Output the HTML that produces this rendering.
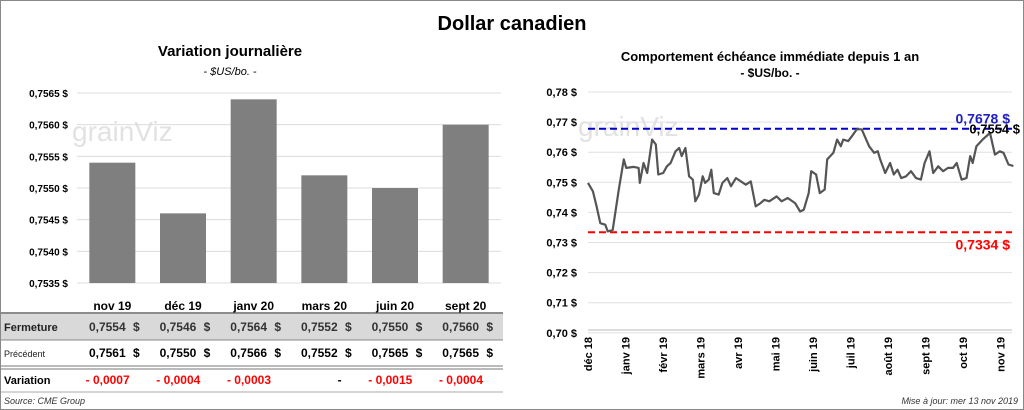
<!DOCTYPE html>
<html><head><meta charset="utf-8"><style>
body{margin:0;background:#fff;font-family:"Liberation Sans",sans-serif}
#wrap{position:relative;width:1022px;height:408px;border:1px solid #888;overflow:hidden}
</style></head><body>
<div id="wrap">
<svg id="svg" width="1022" height="408" viewBox="1 1 1022 408" xmlns="http://www.w3.org/2000/svg" style="position:absolute;left:0;top:0">
<text x="512" y="30" text-anchor="middle" font-size="20" font-weight="bold" fill="#000">Dollar canadien</text>
<text x="230" y="56" text-anchor="middle" font-size="15" font-weight="bold">Variation  journalière</text>
<text x="230" y="75" text-anchor="middle" font-size="11" font-style="italic">- $US/bo. -</text>
<text x="770" y="61" text-anchor="middle" font-size="13" font-weight="bold">Comportement échéance immédiate depuis 1 an</text>
<text x="770" y="77" text-anchor="middle" font-size="12" font-weight="bold">- $US/bo. -</text>
<text x="72" y="141" font-size="28" fill="#e2e2e2">grainViz</text>
<text x="578" y="136" font-size="28" fill="#e2e2e2">grainViz</text>
<g id="left"></g><g id="table"></g><g id="right"></g>
<text x="4" y="404" font-size="9" font-style="italic" fill="#333">Source: CME Group</text>
<text x="1018" y="404" text-anchor="end" font-size="9" font-style="italic" fill="#333">Mise à jour: mer 13 nov 2019</text>
</svg>
</div>
<script>
const barCats=["nov 19","déc 19","janv 20","mars 20","juin 20","sept 20"];
const barVals=[0.7554,0.7546,0.7564,0.7552,0.7550,0.7560];
const prevVals=[0.7561,0.7550,0.7566,0.7552,0.7565,0.7565];
const varLabels=["- 0,0007","- 0,0004","- 0,0003","-","- 0,0015","- 0,0004"];
const leftTicks=[0.7535,0.7540,0.7545,0.7550,0.7555,0.7560,0.7565];
const lineDays=[0,4,7,10,14,16,20,25,29,31,37,41,42,45,48,52,55,57,61,64,67,71,74,76,79,82,85,87,90,93,95,98,100,102,106,109,113,116,120,124,128,132,136,140,143,147,153,157,162,168,172,175,179,181,185,188,192,194,199,202,205,207,211,214,218,222,228,232,235,237,241,245,248,251,254,258,262,266,270,273,277,280,284,288,292,296,299,303,307,310,312,315,320,326,330,334,337,341,345];
const lineVals=[0.7498,0.7470,0.7420,0.7364,0.7359,0.7337,0.7342,0.7476,0.7576,0.7548,0.7551,0.7548,0.7498,0.7564,0.7531,0.7642,0.7626,0.7526,0.7531,0.7553,0.7564,0.7603,0.7614,0.7587,0.7614,0.7520,0.7509,0.7437,0.7459,0.7520,0.7498,0.7509,0.7542,0.7464,0.7459,0.7498,0.7514,0.7487,0.7514,0.7503,0.7492,0.7503,0.7420,0.7431,0.7442,0.7437,0.7453,0.7437,0.7448,0.7431,0.7403,0.7409,0.7464,0.7537,0.7526,0.7464,0.7476,0.7576,0.7598,0.7642,0.7620,0.7642,0.7637,0.7653,0.7676,0.7676,0.7620,0.7598,0.7603,0.7576,0.7531,0.7564,0.7526,0.7542,0.7514,0.7520,0.7537,0.7514,0.7509,0.7564,0.7603,0.7531,0.7553,0.7537,0.7548,0.7548,0.7564,0.7509,0.7514,0.7587,0.7564,0.7620,0.7642,0.7664,0.7592,0.7603,0.7598,0.7559,0.7554];
const rightTicks=[0.70,0.71,0.72,0.73,0.74,0.75,0.76,0.77,0.78];
const monthLabels=["déc 18","janv 19","févr 19","mars 19","avr 19","mai 19","juin 19","juil 19","août 19","sept 19","oct 19","nov 19"];
const highVal=0.7678, lowVal=0.7334, lastVal=0.7554;

const NS="http://www.w3.org/2000/svg";
function mk(parent,tag,attrs,text){const e=document.createElementNS(NS,tag);for(const k in attrs)e.setAttribute(k,attrs[k]);if(text!==undefined)e.textContent=text;parent.appendChild(e);return e;}
const fmt=(v,d)=>v.toFixed(d).replace('.',',');

const L=document.getElementById('left');
const lx0=77,lx1=501,ly=v=>93+(0.7565-v)/0.0005*31.67;
const bw=(lx1-lx0)/barCats.length;
leftTicks.forEach(t=>{
  const g=mk(L,'line',{x1:lx0,x2:lx1,y1:ly(t),y2:ly(t),stroke:'#dcdcdc','stroke-width':1});
  
  
  const tx=mk(L,'text',{x:68,y:ly(t)+4,'text-anchor':'end','font-size':10,'font-weight':'bold'},fmt(t,4)+' $');
  
  
});
barVals.forEach((v,i)=>{
  const cx=lx0+bw*(i+0.5);
  const r=mk(L,'rect',{x:cx-23,y:ly(v),width:46,height:ly(0.7535)-ly(v),fill:'#7f7f7f'});
  
  
});
const T=document.getElementById('table');
const bg=mk(T,'rect',{x:0,y:314,width:503,height:26,fill:'#d9d9d9'});


[[313,'#666',1.5],[340,'#888',1],[366,'#777',1],[369,'#777',1],[392,'#aaa',1]].forEach(([y,c,w])=>{
  const l=mk(T,'line',{x1:0,x2:503,y1:y,y2:y,stroke:c,'stroke-width':w});
  
  
});
const rl=[['Fermeture',331,11,'bold','#222'],['Précédent',357,9,'normal','#222'],['Variation',384,11,'bold','#000']];
rl.forEach(([t,y,s,w,c])=>{const e=mk(T,'text',{x:4,y:y,'font-size':s,'font-weight':w,fill:c},t);
  
  });
barCats.forEach((c,i)=>{
  const cx=lx0+bw*(i+0.5);
  const h=mk(T,'text',{x:cx,y:310,'text-anchor':'middle','font-size':12,'font-weight':'bold'},c);
  
  
  const right=lx0+bw*(i+1)-8;
  [[barVals[i],331,'#333'],[prevVals[i],357,'#000']].forEach(([v,y,col])=>{
    const a=mk(T,'text',{x:right-14,y:y,'text-anchor':'end','font-size':12,'font-weight':'bold',fill:col},fmt(v,4));
    
    
    const d=mk(T,'text',{x:right,y:y,'text-anchor':'end','font-size':12,'font-weight':'bold',fill:col},'$');
    
    
  });
  const vv=mk(T,'text',{x:right-10,y:384,'text-anchor':'end','font-size':12,'font-weight':'bold',fill:varLabels[i]=='-'?'#000':'#ff0000'},varLabels[i]);
  
  
});

const R=document.getElementById('right');
const rx0=588,rx=d=>rx0+d*1.233,ry=v=>92+(0.78-v)/0.01*30.1;
rightTicks.forEach(t=>{
  const g=mk(R,'line',{x1:rx0,x2:1012,y1:ry(t),y2:ry(t),stroke:'#e0e0e0','stroke-width':1});
  
  
  const tx=mk(R,'text',{x:577,y:ry(t)+4,'text-anchor':'end','font-size':11,'font-weight':'bold'},fmt(t,2)+' $');
  
  
});
const ax=mk(R,'line',{x1:rx0,x2:1012,y1:330,y2:330,stroke:'#bbb','stroke-width':1});


monthLabels.forEach((m,i)=>{
  const x=rx0+i*37.5+4;
  const t=mk(R,'text',{x:0,y:0,transform:`translate(${x},337) rotate(-90)`,'text-anchor':'end','font-size':11,'font-weight':'bold'},m);
  
  
});
const hl=mk(R,'line',{x1:rx0,x2:1012,y1:ry(highVal),y2:ry(highVal),stroke:'#0000cc','stroke-width':2,'stroke-dasharray':'7,4'});


const ll=mk(R,'line',{x1:rx0,x2:1012,y1:ry(lowVal),y2:ry(lowVal),stroke:'#ff0000','stroke-width':2,'stroke-dasharray':'7,4'});


const pts=lineDays.map((d,i)=>rx(d).toFixed(1)+','+ry(lineVals[i]).toFixed(1)).join(' ');
const pl=mk(R,'polyline',{points:pts,fill:'none',stroke:'#555','stroke-width':2.2,'stroke-linejoin':'round'});


const ht=mk(R,'text',{x:1010,y:ry(highVal)-5,'text-anchor':'end','font-size':14,'font-weight':'bold',fill:'#2020c0'},fmt(highVal,4)+' $');


const lt=mk(R,'text',{x:1010,y:ry(lowVal)+17,'text-anchor':'end','font-size':14,'font-weight':'bold',fill:'#ff0000'},fmt(lowVal,4)+' $');


const ct=mk(R,'text',{x:1020,y:ry(highVal)+5,'text-anchor':'end','font-size':13,'font-weight':'bold',fill:'#000'},fmt(lastVal,4)+' $');


</script>
</body></html>
